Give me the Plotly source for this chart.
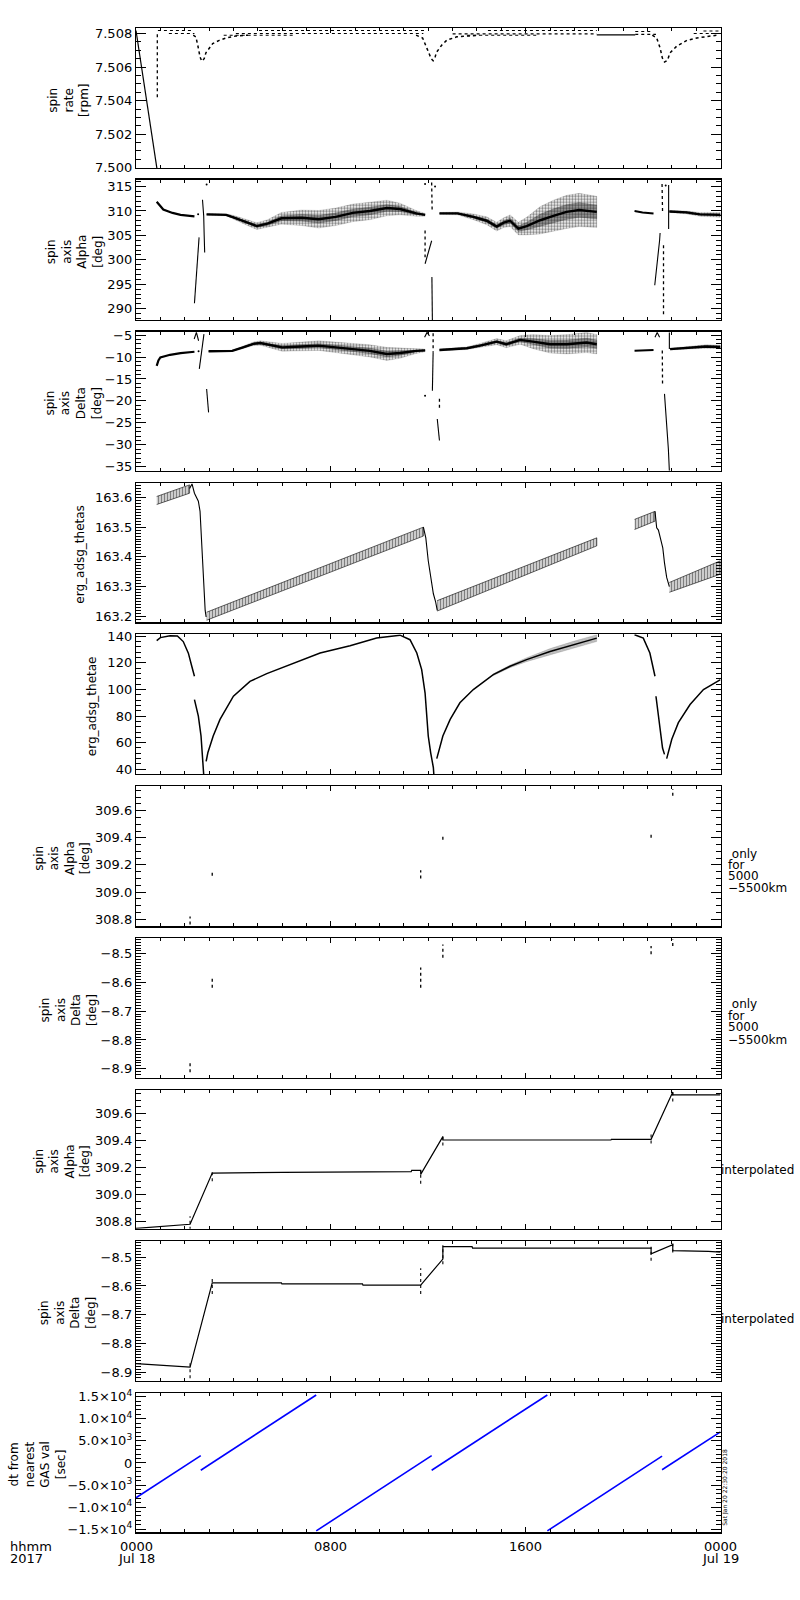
import plotly.graph_objects as go

# ---------------- data (time in hours from 2017-07-18 00:00) ----------------
# Panel 1: spin rate [rpm]
rate_drop_h = [0.0, 0.86]
rate_drop_v = [7.50818, 7.49995]
rate_col_h = [0.875, 0.875]
rate_col_v = [7.5042, 7.5081]
rate_gap_h = [18.92, 20.5]
rate_gap_v = [7.50792, 7.50792]
rate_row_h0 = [0.9, 1.35, 4.1, 5.05, 13.0, 14.45, 20.5, 20.5, 22.9, 23.3, 3.6, 13.6]
rate_row_h1 = [2.3, 2.4, 11.8, 11.9, 18.92, 18.92, 21.15, 21.35, 24.0, 24.0, 6.5, 16.5]
rate_row_v = [7.50818, 7.50800, 7.50800, 7.50818, 7.50798, 7.50818, 7.50812, 7.50795, 7.50800, 7.50815, 7.50790, 7.50790]
rate_dip1_h = [2.35, 2.46, 2.55, 2.63, 2.70, 2.80, 2.87, 3.01, 3.15, 3.42, 3.70, 4.10, 4.60]
rate_dip1_v = [7.5079, 7.5078, 7.5072, 7.5066, 7.50635, 7.5065, 7.50685, 7.50714, 7.5074, 7.50759, 7.50773, 7.50785, 7.5079]
rate_dip2_h = [11.5, 11.77, 11.95, 12.05, 12.12, 12.2, 12.28, 12.35, 12.55, 12.76, 13.17, 14.1]
rate_dip2_v = [7.5079, 7.50773, 7.5071, 7.5068, 7.5065, 7.50638, 7.5066, 7.5069, 7.5073, 7.5076, 7.5078, 7.5079]
rate_dip3_h = [21.2, 21.38, 21.52, 21.61, 21.7, 21.82, 21.93, 22.2, 22.62, 23.03, 23.85]
rate_dip3_v = [7.5079, 7.50773, 7.50714, 7.50655, 7.5063, 7.5064, 7.50685, 7.50724, 7.50759, 7.50773, 7.5079]

# Panel 2: spin axis Alpha [deg]
alpha_a_h = [0.85, 1.0, 1.12, 1.5, 1.83, 2.4]
alpha_a_v = [311.9, 311.0, 310.3, 309.6, 309.2, 308.9]
alpha_b_h = [2.9, 3.7, 4.0, 4.5, 4.96, 5.4, 5.97, 6.8, 7.5, 8.2, 8.9, 9.6, 10.3, 10.84, 11.5, 11.87]
alpha_b_v = [309.3, 309.2, 308.7, 307.8, 306.9, 307.4, 308.5, 308.6, 308.3, 308.8, 309.6, 310.0, 310.6, 310.4, 309.5, 309.2]
alpha_b_sd = [0.2, 0.2, 0.4, 0.6, 0.7, 0.8, 1.2, 1.6, 1.8, 1.8, 1.8, 1.8, 1.6, 1.2, 0.6, 0.3]
alpha_c_h = [12.46, 13.2, 13.85, 14.4, 14.81, 15.1, 15.36, 15.7, 16.04, 16.6, 17.14, 17.68, 18.2, 18.92]
alpha_c_v = [309.5, 309.5, 308.8, 308.0, 306.8, 307.6, 308.0, 306.4, 306.9, 308.1, 309.0, 309.8, 310.2, 309.8]
alpha_c_sd = [0.2, 0.3, 0.6, 0.8, 0.9, 1.0, 1.2, 1.3, 1.8, 2.8, 3.2, 3.4, 3.4, 3.2]
alpha_d_h = [20.47, 20.8, 21.25]
alpha_d_v = [310.0, 309.7, 309.5]
alpha_e_h = [21.9, 22.6, 23.16, 24.0]
alpha_e_v = [309.9, 309.7, 309.3, 309.2]
alpha_e_sd = [0.2, 0.3, 0.4, 0.5]
alpha_spikes = [
    ([2.40, 2.45, 2.52, 2.59], [291.1, 295.0, 299.0, 304.6]),
    ([2.73, 2.76, 2.78, 2.80, 2.82], [312.3, 311.0, 309.0, 305.0, 301.5]),
    ([11.87, 11.95, 12.05, 12.14], [299.2, 300.5, 302.5, 303.9]),
    ([12.15, 12.16, 12.17], [296.5, 292.0, 287.5]),
    ([21.30, 21.40, 21.50, 21.52], [294.8, 299.0, 304.0, 305.5]),
    ([21.87, 21.87], [315.3, 306.3]),
]
alpha_dotted = [
    ([12.14, 12.16], [315.8, 310.0]),
    ([11.87, 11.87], [306.0, 300.5]),
    ([21.66, 21.66], [303.0, 288.8]),
    ([21.60, 21.62], [315.5, 310.0]),
]
alpha_pts_h = [2.55, 2.9, 11.87, 12.28, 21.75]
alpha_pts_v = [309.3, 315.4, 315.5, 315.0, 315.2]

# Panel 3: spin axis Delta [deg]
delta_a_h = [0.85, 0.92, 1.0, 1.4, 1.83, 2.4]
delta_a_v = [-12.0, -10.8, -10.1, -9.5, -9.1, -8.8]
delta_b_h = [2.98, 3.95, 4.4, 4.82, 5.1, 5.62, 6.0, 6.8, 7.5, 8.2, 8.9, 9.6, 10.3, 10.84, 11.5, 11.87]
delta_b_v = [-8.7, -8.6, -7.8, -7.0, -6.8, -7.4, -7.8, -7.6, -7.4, -7.8, -8.2, -8.6, -9.3, -9.1, -8.6, -8.5]
delta_b_sd = [0.1, 0.15, 0.3, 0.4, 0.5, 0.7, 0.9, 1.0, 1.1, 1.2, 1.3, 1.4, 1.5, 1.2, 0.6, 0.3]
delta_c_h = [12.46, 13.58, 14.13, 14.81, 15.2, 15.77, 16.3, 17.0, 17.7, 18.5, 18.92]
delta_c_v = [-8.4, -8.0, -7.4, -6.5, -7.1, -6.1, -6.5, -7.1, -7.1, -6.7, -7.1]
delta_c_sd = [0.2, 0.3, 0.5, 0.7, 0.8, 1.0, 1.6, 2.0, 2.2, 2.3, 2.2]
delta_d_h = [20.47, 21.25]
delta_d_v = [-8.6, -8.4]
delta_e_h = [21.93, 22.6, 23.4, 24.0]
delta_e_v = [-8.2, -8.0, -7.6, -7.7]
delta_e_sd = [0.2, 0.3, 0.4, 0.4]
delta_spikes = [
    ([2.39, 2.48, 2.57], [-5.9, -4.4, -6.3]),
    ([2.60, 2.66, 2.72, 2.79], [-12.7, -10.0, -7.5, -4.8]),
    ([2.90, 2.98], [-17.3, -22.6]),
    ([11.85, 11.95, 12.05], [-5.5, -4.4, -5.2]),
    ([12.20, 12.19, 12.17], [-9.0, -13.0, -17.7]),
    ([12.37, 12.46], [-24.1, -29.0]),
    ([21.31, 21.40, 21.50], [-5.5, -4.4, -5.5]),
    ([21.70, 21.80, 21.86, 21.90], [-18.4, -25.0, -31.0, -35.9]),
    ([21.90, 21.90], [-4.4, -8.2]),
]
delta_dotted = [
    ([12.20, 12.20], [-4.6, -9.0]),
    ([12.46, 12.46], [-19.5, -22.0]),
    ([21.61, 21.62], [-8.5, -16.1]),
]
delta_pts_h = [2.57, 11.87]
delta_pts_v = [-8.7, -18.8]

# Panel 4: erg_adsg_thetas (sawtooth bands)
thetas_h0 = [0.85, 2.9, 12.37, 20.47, 21.9]
thetas_h1 = [2.2, 11.8, 18.92, 21.31, 24.0]
thetas_lo0 = [163.576, 163.187, 163.218, 163.492, 163.281]
thetas_lo1 = [163.614, 163.470, 163.437, 163.520, 163.342]
thetas_hi0 = [163.603, 163.214, 163.253, 163.526, 163.314]
thetas_hi1 = [163.642, 163.500, 163.464, 163.553, 163.387]
thetas_drops = [
    ([2.2, 2.3, 2.4, 2.56, 2.63, 2.70, 2.74, 2.79, 2.84, 2.88],
     [163.63, 163.645, 163.614, 163.587, 163.553, 163.442, 163.331, 163.253, 163.22, 163.198]),
    ([11.8, 11.9, 12.0, 12.1, 12.21, 12.3, 12.37],
     [163.50, 163.464, 163.387, 163.33, 163.276, 163.25, 163.22]),
    ([21.31, 21.38, 21.45, 21.55, 21.63, 21.70, 21.79, 21.90],
     [163.553, 163.498, 163.49, 163.46, 163.43, 163.38, 163.331, 163.30]),
]

# Panel 5: erg_adsg_thetae
thetae_segs = [
    ([0.85, 1.0, 1.4, 1.7, 1.94, 2.15, 2.29, 2.4],
     [136.7, 139.0, 140.4, 140.2, 136.0, 127.3, 117.4, 109.9]),
    ([2.4, 2.56, 2.67, 2.76, 2.78], [92.4, 79.9, 65.0, 40.0, 36.0]),
    ([2.88, 2.9, 2.95, 3.17, 3.45, 4.0, 4.68, 5.37, 6.46, 7.56, 8.79, 9.88, 10.84, 11.25,
      11.53, 11.73, 11.87, 12.0, 12.1, 12.21, 12.23],
     [46.0, 47.5, 52.4, 65.0, 77.5, 94.9, 106.1, 111.9, 119.9, 127.4, 132.9, 138.6, 140.8, 137.4,
      127.4, 114.9, 97.3, 65.0, 52.4, 41.3, 36.0]),
    ([12.35, 12.42, 12.6, 12.9, 13.3, 13.85, 14.67, 15.36, 16.04, 17.0, 17.96, 18.92],
     [48.0, 52.4, 65.0, 77.5, 90.0, 99.9, 111.1, 117.4, 122.4, 128.5, 133.6, 138.6]),
    ([20.47, 20.83, 21.1, 21.31], [141.1, 138.6, 127.4, 109.9]),
    ([21.35, 21.52, 21.62, 21.7], [94.9, 72.4, 56.0, 51.2]),
    ([21.79, 21.85, 22.0, 22.27, 22.75, 23.3, 24.0], [48.0, 52.4, 62.5, 75.0, 88.7, 99.9, 107.4]),
]
thetae_noise_h = [14.67, 15.36, 16.04, 17.0, 17.96, 18.92]
thetae_noise_v = [111.1, 117.4, 122.4, 128.5, 133.6, 138.6]
thetae_noise_sd = [0.8, 1.0, 1.5, 2.2, 2.6, 2.6]

# Panels 6-9: GAS spin axis values and interpolation
gas_h = [2.22, 3.13, 11.69, 12.6, 21.15, 22.04]
alpha_gas_lo = [308.76, 309.12, 309.10, 309.385, 309.40, 309.71]
alpha_gas_hi = [308.82, 309.15, 309.16, 309.42, 309.44, 309.76]
delta_gas_lo = [-8.912, -8.618, -8.618, -8.514, -8.502, -8.473]
delta_gas_hi = [-8.874, -8.577, -8.548, -8.468, -8.473, -8.450]
alpha_int_h = [0, 2.22, 3.13, 6.0, 6.02, 11.3, 11.32, 11.69, 11.69, 12.6, 12.6, 19.5, 19.52, 21.15, 22.04, 22.04, 24.0]
alpha_int_v = [308.75, 308.78, 309.16, 309.16, 309.165, 309.17, 309.18, 309.18, 309.15, 309.43, 309.405,
               309.405, 309.41, 309.41, 309.76, 309.74, 309.74]
delta_int_h = [0, 2.22, 3.13, 5.97, 5.99, 9.3, 9.32, 11.69, 12.6, 12.6, 13.8, 13.82, 21.15, 21.15, 22.04, 22.04, 23.5, 24.0]
delta_int_v = [-8.871, -8.883, -8.589, -8.589, -8.593, -8.593, -8.597, -8.597, -8.506, -8.463, -8.463,
               -8.468, -8.468, -8.488, -8.456, -8.477, -8.479, -8.482]

# Panel 10: dt from nearest GAS val [sec]
dt_h0 = [0.0, 2.66, 7.40, 12.14, 16.89, 21.60]
dt_h1 = [2.66, 7.40, 12.14, 16.89, 21.60, 24.0]
dt_v0 = [-7900, -1650, -15400, -1650, -15400, -1550]
dt_v1 = [1650, 15400, 1650, 15400, 1550, 7050]

x_tick_vals = [0, 8, 16, 24]
x_tick_top = ["0000", "0800", "1600", "0000"]
x_tick_bot = ["Jul 18", "", "", "Jul 19"]
dt_tick_vals = [-15000, -10000, -5000, 0, 5000, 10000, 15000]
dt_tick_text = ["\u22121.5\u00d710<sup>4</sup>", "\u22121.0\u00d710<sup>4</sup>", "\u22125.0\u00d710<sup>3</sup>", "0",
                "5.0\u00d710<sup>3</sup>", "1.0\u00d710<sup>4</sup>", "1.5\u00d710<sup>4</sup>"]

# ---------------- layout geometry ----------------
W, H = 800, 1600
X0, X1 = 136, 720.5
panels_px = [(23.3, 164.3), (176, 317.3), (329, 469.3), (481.7, 622), (634, 775),
             (787.3, 928.3), (940.3, 1081), (1093.3, 1233), (1245.3, 1386), (1398.7, 1539)]
yranges = [[7.49998, 7.50832], [287.7, 316.4], [-35.9, -4.2], [163.18, 163.648], [36.3, 141.5],
           [308.747, 309.779], [-8.932, -8.446], [308.747, 309.775], [-8.93, -8.443], [-15750, 15800]]
ymajor = [0.002, 5, 5, 0.1, 20, 0.2, 0.1, 0.2, 0.1, 5000]
yminor = [0.0005, 1, 1, 0.01, 4, 0.05, 0.01, 0.05, 0.01, 1000]
ytick0 = [7.5, 0, 0, 163.0, 0, 309.0, -9.0, 309.0, -9.0, 0]
yfmt = [".3f", "d", "d", ".1f", "d", ".1f", ".1f", ".1f", ".1f", None]

FONT = "DejaVu Sans"
fig = go.Figure()


def ax(k):
    return ("x" if k == 1 else f"x{k}"), ("y" if k == 1 else f"y{k}")


def line(k, h, v, width=1.1, dash=None, color="black"):
    xa, ya = ax(k)
    fig.add_trace(go.Scatter(x=h, y=v, mode="lines", xaxis=xa, yaxis=ya, showlegend=False,
                             hoverinfo="skip", line=dict(color=color, width=width, dash=dash)))


def band(k, h, lo, hi, shape, size, solidity, outline=0.0):
    xa, ya = ax(k)
    fig.add_trace(go.Scatter(x=list(h) + list(h)[::-1], y=list(hi) + list(lo)[::-1], mode="lines",
                             xaxis=xa, yaxis=ya, showlegend=False, hoverinfo="skip",
                             fill="toself", fillcolor="rgba(0,0,0,0)",
                             fillpattern=dict(shape=shape, fgcolor="black", bgcolor="rgba(0,0,0,0)",
                                              size=size, solidity=solidity),
                             line=dict(color="rgba(0,0,0,0.35)" if outline == 0 else "black",
                                       width=outline if outline else 0.3)))


def noisy(k, h, v, sd, width=2.4):
    lo = [a - s for a, s in zip(v, sd)]
    hi = [a + s for a, s in zip(v, sd)]
    band(k, h, lo, hi, ".", 3, 0.5)
    lo2 = [a - 0.45 * s for a, s in zip(v, sd)]
    hi2 = [a + 0.45 * s for a, s in zip(v, sd)]
    band(k, h, lo2, hi2, ".", 2, 0.75)
    line(k, h, v, width=width)


# Panel 1
line(1, rate_drop_h, rate_drop_v, width=1.2)
line(1, rate_col_h, rate_col_v, width=1.3, dash="dot")
line(1, rate_gap_h, rate_gap_v, width=1.2)
for a, b, v in zip(rate_row_h0, rate_row_h1, rate_row_v):
    line(1, [a, b], [v, v], width=1.1, dash="dot")
for hh, vv in [(rate_dip1_h, rate_dip1_v), (rate_dip2_h, rate_dip2_v), (rate_dip3_h, rate_dip3_v)]:
    line(1, hh, vv, width=1.5, dash="dot")

# Panel 2
line(2, alpha_a_h, alpha_a_v, width=2.2)
noisy(2, alpha_b_h, alpha_b_v, alpha_b_sd)
noisy(2, alpha_c_h, alpha_c_v, alpha_c_sd)
line(2, alpha_d_h, alpha_d_v, width=2.0)
noisy(2, alpha_e_h, alpha_e_v, alpha_e_sd)
for hh, vv in alpha_spikes:
    line(2, hh, vv, width=1.1)
for hh, vv in alpha_dotted:
    line(2, hh, vv, width=1.3, dash="dot")
fig.add_trace(go.Scatter(x=alpha_pts_h, y=alpha_pts_v, mode="markers", xaxis="x2", yaxis="y2",
                         showlegend=False, hoverinfo="skip", marker=dict(color="black", size=2)))

# Panel 3
line(3, delta_a_h, delta_a_v, width=2.2)
noisy(3, delta_b_h, delta_b_v, delta_b_sd)
noisy(3, delta_c_h, delta_c_v, delta_c_sd)
line(3, delta_d_h, delta_d_v, width=2.0)
noisy(3, delta_e_h, delta_e_v, delta_e_sd)
for hh, vv in delta_spikes:
    line(3, hh, vv, width=1.1)
for hh, vv in delta_dotted:
    line(3, hh, vv, width=1.3, dash="dot")
fig.add_trace(go.Scatter(x=delta_pts_h, y=delta_pts_v, mode="markers", xaxis="x3", yaxis="y3",
                         showlegend=False, hoverinfo="skip", marker=dict(color="black", size=2)))

# Panel 4
for a, b, l0, l1, u0, u1 in zip(thetas_h0, thetas_h1, thetas_lo0, thetas_lo1, thetas_hi0, thetas_hi1):
    band(4, [a, b], [l0, l1], [u0, u1], "|", 3, 0.6, outline=0.6)
for hh, vv in thetas_drops:
    line(4, hh, vv, width=1.1)

# Panel 5
for hh, vv in thetae_segs:
    line(5, hh, vv, width=1.5)
band(5, thetae_noise_h, [a - s for a, s in zip(thetae_noise_v, thetae_noise_sd)],
     [a + s for a, s in zip(thetae_noise_v, thetae_noise_sd)], ".", 2, 0.6)

# Panels 6, 7
for h, a, b in zip(gas_h, alpha_gas_lo, alpha_gas_hi):
    line(6, [h, h], [a, b], width=1.3, dash="dot")
for h, a, b in zip(gas_h, delta_gas_lo, delta_gas_hi):
    line(7, [h, h], [a, b], width=1.3, dash="dot")

# Panels 8, 9
line(8, alpha_int_h, alpha_int_v, width=1.2)
line(9, delta_int_h, delta_int_v, width=1.2)
for h, a, b in zip(gas_h, alpha_gas_lo, alpha_gas_hi):
    line(8, [h, h], [a - 0.02, b + 0.02], width=1.1, dash="dot")
for h, a, b in zip(gas_h, delta_gas_lo, delta_gas_hi):
    line(9, [h, h], [a - 0.01, b + 0.01], width=1.1, dash="dot")

# Panel 10
for a, b, u, v in zip(dt_h0, dt_h1, dt_v0, dt_v1):
    line(10, [a, b], [u, v], width=1.6, color="#0000ff")

# ---------------- axes ----------------
lay = {}
for i, (top, bot) in enumerate(panels_px):
    k = i + 1
    xs = "xaxis" if k == 1 else f"xaxis{k}"
    ys = "yaxis" if k == 1 else f"yaxis{k}"
    lay[xs] = dict(domain=[X0 / W, X1 / W], range=[0, 24], anchor=("y" if k == 1 else f"y{k}"),
                   showline=True, linecolor="black", linewidth=1.2, mirror="allticks",
                   ticks="inside", ticklen=5, tickcolor="black", tickwidth=1,
                   tickmode="array", tickvals=x_tick_vals, showticklabels=False,
                   minor=dict(ticks="inside", ticklen=3, dtick=1, tick0=0, tickcolor="black"),
                   showgrid=False, zeroline=False, fixedrange=True)
    yd = dict(domain=[1 - bot / H, 1 - top / H], range=yranges[i], anchor=("x" if k == 1 else f"x{k}"),
              showline=True, linecolor="black", linewidth=1.2, mirror="allticks",
              ticks="inside", ticklen=10, tickcolor="black", tickwidth=1,
              tickfont=dict(family=FONT, size=13, color="black"),
              minor=dict(ticks="inside", ticklen=5, dtick=yminor[i], tick0=ytick0[i], tickcolor="black"),
              showgrid=False, zeroline=False, fixedrange=True)
    if yfmt[i] is None:
        yd.update(tickmode="array", tickvals=dt_tick_vals, ticktext=dt_tick_text)
    else:
        yd.update(tickmode="linear", dtick=ymajor[i], tick0=ytick0[i], tickformat=yfmt[i])
    lay[ys] = yd

# ---------------- annotations ----------------
ann = []


def text(x, y, s, size=12, angle=0, xanchor="center", yanchor="middle", align="center"):
    ann.append(dict(x=x / W, y=1 - y / H, xref="paper", yref="paper", text=s, showarrow=False,
                    textangle=angle, xanchor=xanchor, yanchor=yanchor, align=align,
                    font=dict(family=FONT, size=size, color="black")))


ytitles = ["spin<br>rate<br>[rpm]", "spin<br>axis<br>Alpha<br>[deg]", "spin<br>axis<br>Delta<br>[deg]",
           "erg_adsg_thetas", "erg_adsg_thetae", "spin<br>axis<br>Alpha<br>[deg]",
           "spin<br>axis<br>Delta<br>[deg]", "spin<br>axis<br>Alpha<br>[deg]",
           "spin<br>axis<br>Delta<br>[deg]", "dt from<br>nearest<br>GAS val<br>[sec]"]
ytitle_x = [68, 75, 73, 80, 92, 62, 68, 62, 68, 38]
for i, (top, bot) in enumerate(panels_px):
    text(ytitle_x[i], (top + bot) / 2 + 2, ytitles[i], size=12, angle=-90)

for yy in ([855, 866.7, 877.7, 889.3], [1006.7, 1018.3, 1029.3, 1042.7]):
    for s, y in zip([" only", "for", "5000", "\u22125500km"], yy):
        text(726, y, s, size=12, xanchor="left")
text(719, 1173.3, "interpolated", size=12, xanchor="left")
text(719, 1324, "interpolated", size=12, xanchor="left")

xpx = [X0 + (X1 - X0) * v / 24 for v in x_tick_vals]
for x, a, b in zip(xpx, x_tick_top, x_tick_bot):
    text(x, 1553, a, size=13)
    if b:
        text(x, 1565, b, size=13)
text(8, 1553, "hhmm", size=13, xanchor="left")
text(8, 1565, "2017", size=13, xanchor="left")
text(725, 1494, "Sat Jan 20 22:30:20 2018", size=6, angle=-90)

fig.update_layout(width=W, height=H, margin=dict(l=0, r=0, t=0, b=0), autosize=False,
                  paper_bgcolor="white", plot_bgcolor="white", showlegend=False,
                  hovermode=False, annotations=ann, **lay)
fig.write_html("out.html", config={"displayModeBar": False, "staticPlot": True},
               post_script="document.body.style.margin='0';document.body.style.overflow='hidden';")
